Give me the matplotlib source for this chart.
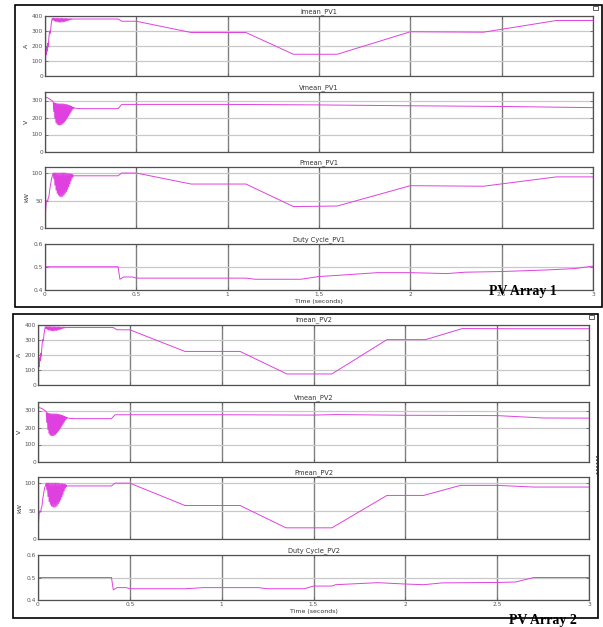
import numpy as np
import matplotlib
matplotlib.use("Agg")
import matplotlib.pyplot as plt
from matplotlib.patches import Rectangle
from matplotlib.lines import Line2D

W, H = 603, 627
LINE = "#e040e0"

# ---------------- PV Array 1 ----------------
i1_start_t = [0, 0.001, 0.004, 0.006, 0.009, 0.012, 0.015, 0.018, 0.021, 0.025, 0.029, 0.033, 0.037]
i1_start_v = [0, 100, 160, 140, 190, 165, 220, 195, 250, 300, 285, 335, 370]
i1_burst_hi = [385, 386, 386, 386, 385, 385, 385, 385, 384, 384, 384, 383, 383, 382, 382, 382]
i1_burst_lo = [372, 368, 364, 362, 360, 359, 359, 360, 361, 363, 365, 368, 371, 374, 377, 379]
i1_t = [0.16, 0.40, 0.42, 0.50, 0.80, 1.10, 1.36, 1.60, 2.00, 2.40, 2.80, 3.00]
i1_v = [380, 380, 365, 365, 290, 290, 145, 145, 295, 292, 370, 370]

v1_start_t = [0, 0.0005, 0.01, 0.02, 0.03, 0.04]
v1_start_v = [0, 318, 318, 312, 305, 298]
v1_burst_hi = [292, 286, 283, 282, 281, 280, 280, 280, 280, 280, 279, 278, 277, 275, 273, 271, 268, 265, 262, 260]
v1_burst_lo = [235, 195, 172, 162, 157, 155, 156, 158, 162, 167, 174, 182, 190, 200, 210, 221, 232, 243, 251, 256]
v1_t = [0.17, 0.20, 0.40, 0.42, 0.50, 1.00, 1.50, 2.00, 2.50, 3.00]
v1_v = [254, 252, 252, 277, 277, 277, 274, 269, 265, 258]

p1_start_t = [0, 0.002, 0.006, 0.01, 0.014, 0.018, 0.022, 0.026, 0.03, 0.035, 0.04]
p1_start_v = [0, 25, 45, 50, 48, 55, 58, 70, 78, 88, 95]
p1_burst_hi = [100, 100, 100, 100, 100, 100, 100, 100, 100, 100, 100, 100, 99, 99, 99, 98, 98, 97]
p1_burst_lo = [90, 78, 69, 63, 60, 58, 57, 57, 58, 60, 63, 66, 70, 75, 80, 86, 91, 94]
p1_t = [0.16, 0.40, 0.42, 0.50, 0.80, 1.10, 1.36, 1.60, 2.00, 2.40, 2.80, 3.00]
p1_v = [95, 95, 100, 100, 80, 80, 39, 40, 77, 76, 93, 93]

d1_t = [0, 0.40, 0.41, 0.43, 0.48, 0.50, 1.10, 1.15, 1.40, 1.50, 1.60, 1.82, 2.00, 2.20, 2.30, 2.50, 2.75, 2.90, 3.00]
d1_v = [0.5, 0.5, 0.445, 0.455, 0.455, 0.45, 0.45, 0.445, 0.445, 0.457, 0.462, 0.474, 0.474, 0.47, 0.476, 0.479, 0.486, 0.492, 0.503]

# ---------------- PV Array 2 ----------------
i2_start_t = [0, 0.001, 0.004, 0.006, 0.009, 0.012, 0.015, 0.018, 0.021, 0.025, 0.029, 0.033, 0.037]
i2_start_v = [0, 80, 150, 120, 180, 160, 210, 190, 250, 300, 290, 340, 370]
i2_burst_hi = [385, 386, 386, 386, 385, 385, 385, 385, 384, 384, 384, 383, 383, 382, 382, 382]
i2_burst_lo = [372, 367, 363, 361, 359, 358, 358, 359, 361, 363, 365, 368, 371, 374, 377, 379]
i2_t = [0.16, 0.41, 0.43, 0.50, 0.80, 1.10, 1.355, 1.60, 1.90, 2.11, 2.31, 2.60, 3.00]
i2_v = [380, 380, 365, 365, 222, 222, 73, 73, 300, 300, 373, 372, 372]

v2_start_t = [0, 0.0005, 0.01, 0.02, 0.03, 0.04]
v2_start_v = [0, 318, 316, 312, 305, 298]
v2_burst_hi = [292, 286, 283, 282, 281, 280, 280, 280, 280, 280, 279, 278, 277, 275, 273, 271, 268, 265, 262, 260]
v2_burst_lo = [230, 188, 166, 156, 152, 151, 152, 155, 159, 165, 172, 180, 189, 199, 209, 220, 231, 242, 250, 256]
v2_t = [0.17, 0.20, 0.40, 0.42, 0.50, 1.00, 1.50, 1.62, 2.00, 2.50, 2.75, 3.00]
v2_v = [254, 252, 252, 275, 275, 275, 273, 276, 272, 270, 256, 255]

p2_start_t = [0, 0.002, 0.006, 0.01, 0.014, 0.018, 0.022, 0.026, 0.03, 0.035, 0.04]
p2_start_v = [0, 25, 45, 50, 48, 55, 60, 72, 80, 90, 95]
p2_burst_hi = [100, 100, 100, 100, 100, 100, 100, 100, 100, 100, 100, 100, 99, 99, 99, 98, 98, 97]
p2_burst_lo = [88, 76, 67, 62, 59, 58, 57, 57, 58, 60, 63, 66, 70, 75, 80, 86, 91, 94]
p2_t = [0.16, 0.40, 0.42, 0.50, 0.80, 1.10, 1.35, 1.60, 1.90, 2.10, 2.30, 2.50, 2.70, 3.00]
p2_v = [95, 95, 100, 100, 60, 60, 20, 20, 78, 78, 96, 96, 93, 93]

d2_t = [0, 0.40, 0.41, 0.43, 0.48, 0.50, 0.80, 0.90, 1.20, 1.25, 1.45, 1.50, 1.60, 1.62, 1.85, 2.00, 2.10, 2.20, 2.50, 2.60, 2.70, 3.00]
d2_v = [0.5, 0.5, 0.445, 0.455, 0.455, 0.45, 0.45, 0.455, 0.455, 0.45, 0.45, 0.462, 0.462, 0.468, 0.477, 0.471, 0.468, 0.476, 0.478, 0.48, 0.5, 0.5]

x_ticks = [0, 0.5, 1, 1.5, 2, 2.5, 3]
x_tick_labels = ["0", "0.5", "1", "1.5", "2", "2.5", "3"]


def burst(t0, t1, hi, lo):
    # fast switching ripple: alternate between the read upper and lower envelopes
    ts = np.linspace(t0, t1, 2 * len(lo))
    vs = np.ravel(np.column_stack([hi, lo]))
    return list(ts), list(vs)


def series(st, sv, bt0, bt1, hi, lo, t, v):
    bt, bv = burst(bt0, bt1, hi, lo)
    return st + bt + t, sv + bv + v


def px_axes(fig, left, right, top, bottom):
    return fig.add_axes([left / W, 1 - bottom / H, (right - left) / W, (bottom - top) / H])


def style(ax, ylim, yticks, ylabel, title, show_x):
    ax.set_xlim(0, 3)
    ax.set_ylim(*ylim)
    ax.set_xticks(x_ticks)
    ax.set_yticks(yticks)
    ax.set_yticklabels([("%g" % y) for y in yticks], fontsize=4.2, color="#333333")
    if show_x:
        ax.set_xticklabels(x_tick_labels, fontsize=4.2, color="#333333")
        ax.set_xlabel("Time (seconds)", fontsize=4.5, color="#333333", labelpad=1.5)
    else:
        ax.set_xticklabels([])
    ax.tick_params(direction="in", length=2, width=0.5, pad=1.5, top=True, right=True,
                   colors="#555555")
    ax.xaxis.grid(True, color="#808080", lw=1.0)
    ax.yaxis.grid(True, color="#c8c8c8", lw=0.9)
    ax.set_axisbelow(True)
    for s in ax.spines.values():
        s.set_color("#505050")
        s.set_linewidth(0.9)
    if ylabel:
        ax.set_ylabel(ylabel, fontsize=4.5, color="#333333", labelpad=2)
    ax.set_title(title, fontsize=4.8, color="#333333", pad=2)


fig = plt.figure(figsize=(W / 100, H / 100), dpi=100)

panels = [
    dict(left=45, right=593, rows=[(16, 76), (92, 151.5), (167, 228), (244, 289.5)],
         data=[series(i1_start_t, i1_start_v, 0.04, 0.15, i1_burst_hi, i1_burst_lo, i1_t, i1_v),
               series(v1_start_t, v1_start_v, 0.045, 0.16, v1_burst_hi, v1_burst_lo, v1_t, v1_v),
               series(p1_start_t, p1_start_v, 0.045, 0.155, p1_burst_hi, p1_burst_lo, p1_t, p1_v),
               (d1_t, d1_v)],
         names=["Imean_PV1", "Vmean_PV1", "Pmean_PV1", "Duty Cycle_PV1"]),
    dict(left=38, right=589, rows=[(324.5, 385), (402, 461.5), (477, 539), (555, 600)],
         data=[series(i2_start_t, i2_start_v, 0.04, 0.15, i2_burst_hi, i2_burst_lo, i2_t, i2_v),
               series(v2_start_t, v2_start_v, 0.045, 0.16, v2_burst_hi, v2_burst_lo, v2_t, v2_v),
               series(p2_start_t, p2_start_v, 0.045, 0.155, p2_burst_hi, p2_burst_lo, p2_t, p2_v),
               (d2_t, d2_v)],
         names=["Imean_PV2", "Vmean_PV2", "Pmean_PV2", "Duty Cycle_PV2"]),
]

limits = [((0, 400), [0, 100, 200, 300, 400], "A"),
          ((0, 350), [0, 100, 200, 300], "V"),
          ((0, 111), [0, 50, 100], "kW"),
          ((0.4, 0.6), [0.4, 0.5, 0.6], None)]

for p in panels:
    for k, ((top, bottom), (t, v), name) in enumerate(zip(p["rows"], p["data"], p["names"])):
        ax = px_axes(fig, p["left"], p["right"], top, bottom)
        ax.plot(t, v, color=LINE, lw=0.7)
        ylim, yt, yl = limits[k]
        style(ax, ylim, yt, yl, name, k == 3)

# outer frames, scope icons and labels
for (x0, y0, x1, y1) in [(15, 5, 602, 307), (13, 314, 598, 618)]:
    fig.add_artist(Rectangle((x0 / W, 1 - y1 / H), (x1 - x0) / W, (y1 - y0) / H,
                             transform=fig.transFigure, fill=False, ec="black", lw=1.2))
for (x0, y0) in [(593, 6), (589, 315)]:
    fig.add_artist(Rectangle((x0 / W, 1 - (y0 + 4) / H), 5 / W, 4 / H,
                             transform=fig.transFigure, fill=False, ec="#444444", lw=0.6))
fig.add_artist(Line2D([597 / W, 597 / W], [1 - 456 / H, 1 - 475 / H], transform=fig.transFigure,
                      color="#333333", lw=1.2, ls=(0, (1, 1))))

fig.text(523 / W, 1 - 291.5 / H, "PV Array 1", fontsize=10, fontweight="bold",
         family="Liberation Serif", ha="center", va="center", zorder=10)
fig.text(543 / W, 1 - 620.5 / H, "PV Array 2", fontsize=10, fontweight="bold",
         family="Liberation Serif", ha="center", va="center", zorder=10)

fig.savefig("out.png", dpi=100)
